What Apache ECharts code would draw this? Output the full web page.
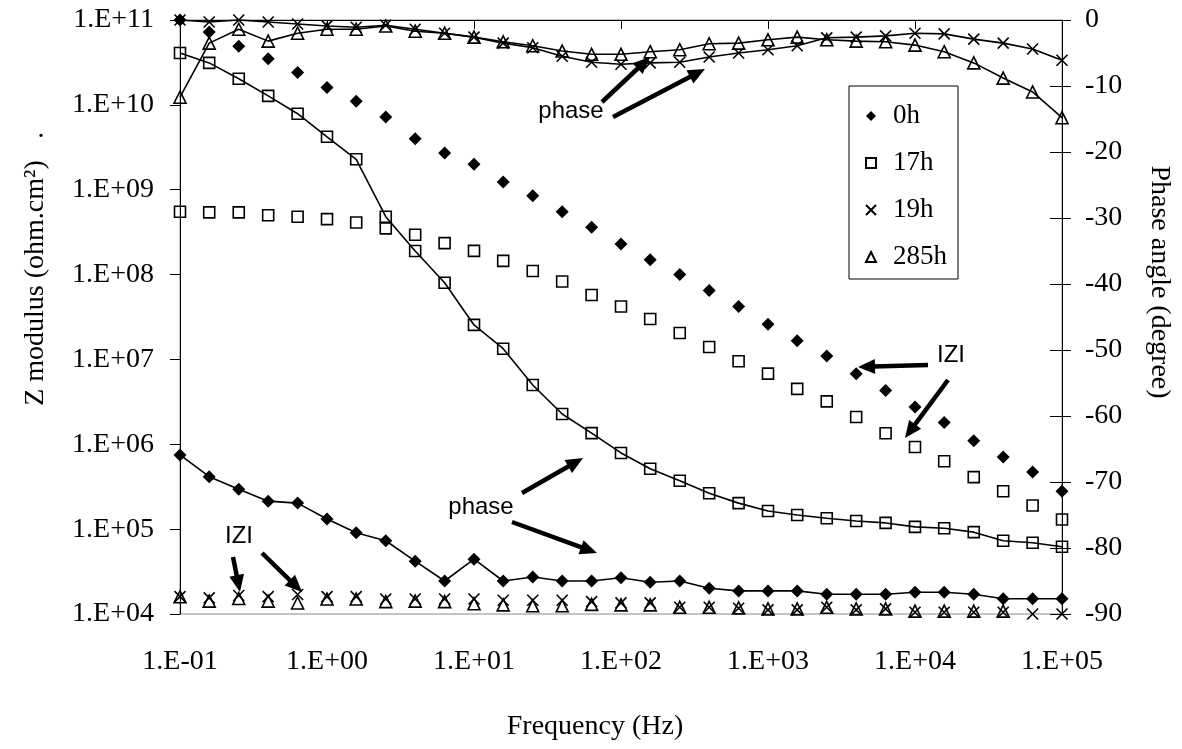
<!DOCTYPE html>
<html>
<head>
<meta charset="utf-8">
<script src="https://cdn.jsdelivr.net/npm/echarts@6/dist/echarts.min.js"></script>
<style>
html,body{margin:0;padding:0;background:#fff;}
#chart{width:1182px;height:749px;}
</style>
</head>
<body>
<div id="chart"></div>
<script>
// Frequencies (Hz), 5 points per decade
const freq = [0.1,0.158,0.251,0.398,0.631,1,1.58,2.51,3.98,6.31,10,15.8,25.1,39.8,63.1,100,158,251,398,631,1000,1580,2510,3980,6310,10000,15800,25100,39800,63100,100000];

// |Z| modulus (ohm.cm2), left axis
const z0h   = [1.0e11,7.2e10,4.9e10,3.5e10,2.4e10,1.6e10,1.1e10,7.2e9,4.0e9,2.7e9,2.0e9,1.23e9,8.5e8,5.5e8,3.6e8,2.3e8,1.5e8,1.0e8,6.5e7,4.2e7,2.6e7,1.66e7,1.1e7,6.8e6,4.3e6,2.75e6,1.8e6,1.1e6,7.1e5,4.7e5,2.8e5];
const z17h  = [5.5e8,5.4e8,5.4e8,5.0e8,4.8e8,4.5e8,4.1e8,3.5e8,2.95e8,2.35e8,1.9e8,1.45e8,1.1e8,8.3e7,5.75e7,4.2e7,3.0e7,2.05e7,1.4e7,9.5e6,6.8e6,4.5e6,3.2e6,2.1e6,1.35e6,9.3e5,6.3e5,4.1e5,2.8e5,1.9e5,1.3e5];
const z19h  = [1.6e4,1.55e4,1.65e4,1.6e4,1.7e4,1.6e4,1.6e4,1.5e4,1.5e4,1.5e4,1.5e4,1.45e4,1.45e4,1.45e4,1.4e4,1.35e4,1.35e4,1.2e4,1.2e4,1.17e4,1.12e4,1.12e4,1.2e4,1.12e4,1.15e4,1.05e4,1.05e4,1.05e4,1.05e4,1.0e4,1.0e4];
const z285h = [1.6e4,1.42e4,1.52e4,1.42e4,1.35e4,1.5e4,1.5e4,1.4e4,1.42e4,1.4e4,1.32e4,1.28e4,1.25e4,1.25e4,1.3e4,1.28e4,1.28e4,1.2e4,1.2e4,1.18e4,1.15e4,1.15e4,1.2e4,1.15e4,1.15e4,1.08e4,1.08e4,1.08e4,1.08e4,null,null];

// Phase angle (degree), right axis
const p0h   = [-65.9,-69.2,-71.1,-72.9,-73.2,-75.6,-77.7,-78.9,-82.0,-85.0,-81.7,-85.0,-84.4,-85.0,-85.0,-84.5,-85.2,-85.0,-86.1,-86.5,-86.5,-86.5,-87.0,-87.0,-87.0,-86.7,-86.7,-87.0,-87.7,-87.7,-87.7];
const p17h  = [-5.0,-6.5,-8.9,-11.5,-14.2,-17.7,-21.1,-29.8,-35.0,-39.8,-46.2,-49.8,-55.3,-59.7,-62.6,-65.6,-68.0,-69.8,-71.7,-73.2,-74.4,-75.0,-75.5,-75.9,-76.2,-76.8,-77.0,-77.6,-78.9,-79.2,-79.8];
const p19h  = [0,-0.3,0,-0.3,-0.6,-0.9,-1.1,-0.8,-1.4,-2.0,-2.6,-3.5,-4.2,-5.5,-6.4,-6.7,-6.5,-6.4,-5.6,-5.0,-4.5,-3.9,-2.7,-2.6,-2.4,-2.0,-2.1,-2.9,-3.5,-4.4,-6.1];
const p285h = [-11.7,-3.5,-1.4,-3.2,-2.0,-1.4,-1.4,-0.9,-1.7,-2.0,-2.6,-3.3,-3.9,-4.7,-5.2,-5.2,-4.8,-4.5,-3.6,-3.5,-3.0,-2.6,-3.0,-3.2,-3.3,-3.8,-4.8,-6.5,-8.8,-10.9,-14.8];

const seriesNames = ['0h','17h','19h','285h'];
const phaseTicks = [0,-10,-20,-30,-40,-50,-60,-70,-80,-90];

const SERIF = '"Liberation Serif","Times New Roman",serif';
const SANS = '"Liberation Sans",Arial,sans-serif';

function pairs(v){ return freq.map((f,i)=>[f, v[i]]); }
function expLabel(v){
  const e = Math.round(Math.log10(v));
  return '1.E' + (e < 0 ? '-' : '+') + String(Math.abs(e)).padStart(2,'0');
}

const CROSS = 'path://M0,0L10,10M10,0L0,10';
const HOLLOW = 'rgba(255,255,255,0)';
const styles = {
  '0h':   {symbol:'diamond', size:13, item:{color:'#000', borderColor:'#000', borderWidth:0, opacity:1}},
  '17h':  {symbol:'rect', size:11, item:{color:HOLLOW, borderColor:'#000', borderWidth:1.6, opacity:1}},
  '19h':  {symbol:CROSS, size:11, item:{color:HOLLOW, borderColor:'#000', borderWidth:1.6, opacity:1}},
  '285h': {symbol:'triangle', size:12, item:{color:HOLLOW, borderColor:'#000', borderWidth:1.6, opacity:1}}
};

const zData = {'0h':z0h,'17h':z17h,'19h':z19h,'285h':z285h};
const pData = {'0h':p0h,'17h':p17h,'19h':p19h,'285h':p285h};

const series = [];
seriesNames.forEach(n => {
  const s = styles[n];
  series.push({
    name:n, type:'scatter', xAxisIndex:0, yAxisIndex:0, clip:false,
    symbol:s.symbol, symbolSize:s.size, itemStyle:s.item,
    emphasis:{disabled:true},
    data:pairs(zData[n]), z:3
  });
});
seriesNames.forEach(n => {
  const s = styles[n];
  series.push({
    name:n, type:'line', xAxisIndex:0, yAxisIndex:1, clip:false,
    symbol:s.symbol, symbolSize:s.size, showSymbol:true, itemStyle:s.item,
    emphasis:{disabled:true},
    lineStyle:{color:'#000', width:1.6}, data:pairs(pData[n]), z:2
  });
});

function arrow(x1,y1,x2,y2){
  const a = Math.atan2(y2-y1, x2-x1), c = Math.cos(a), s = Math.sin(a);
  const L = 17, W = 7.5;
  const bx = x2 - L*c, by = y2 - L*s;
  return [
    {type:'line', shape:{x1:x1,y1:y1,x2:bx+2*c,y2:by+2*s}, style:{stroke:'#000', lineWidth:4.5}},
    {type:'polygon', shape:{points:[[x2,y2],[bx - s*W, by + c*W],[bx + s*W, by - c*W]]}, style:{fill:'#000'}}
  ];
}

const annotations = [
  {type:'text', x:571, y:111, style:{text:'phase', font:'24px '+SANS, fill:'#000', align:'center', verticalAlign:'middle'}},
  {type:'text', x:481, y:507, style:{text:'phase', font:'24px '+SANS, fill:'#000', align:'center', verticalAlign:'middle'}},
  {type:'text', x:239, y:536, style:{text:'IZI', font:'24px '+SANS, fill:'#000', align:'center', verticalAlign:'middle'}},
  {type:'text', x:951, y:355, style:{text:'IZI', font:'24px '+SANS, fill:'#000', align:'center', verticalAlign:'middle'}},
  ...arrow(602,102,650,57),
  ...arrow(613,117,705,69),
  ...arrow(522,493,583,458),
  ...arrow(512,522,597,553),
  ...arrow(233,557,240,592),
  ...arrow(262,553,302,592),
  ...arrow(928,365,858,367),
  ...arrow(948,380,905,438),
  // axis titles
  {type:'text', x:36, y:283, rotation:Math.PI/2, style:{text:'Z modulus (ohm.cm²)', font:'28px '+SERIF, fill:'#000', align:'center', verticalAlign:'middle'}},
  {type:'text', x:41, y:130, style:{text:'.', font:'28px '+SERIF, fill:'#000', align:'center', verticalAlign:'middle'}},
  {type:'text', x:1159, y:282, rotation:-Math.PI/2, style:{text:'Phase angle (degree)', font:'28px '+SERIF, fill:'#000', align:'center', verticalAlign:'middle'}},
  {type:'text', x:595, y:727, style:{text:'Frequency (Hz)', font:'28px '+SERIF, fill:'#000', align:'center', verticalAlign:'middle'}}
];

const chart = echarts.init(document.getElementById('chart'), null, {renderer:'canvas'});
chart.setOption({
  backgroundColor:'#fff',
  animation:false,
  grid:{left:180, right:120, top:20, bottom:135, show:true, borderColor:'#8a8a8a', borderWidth:1, backgroundColor:'transparent'},
  legend:{
    data:seriesNames, orient:'vertical', left:849, top:86,
    itemWidth:10, itemHeight:10, itemGap:17, symbolKeepAspect:true,
    padding:[15,11,7,16],
    borderColor:'#000', borderWidth:1, backgroundColor:'#fff',
    textStyle:{fontFamily:SERIF, fontSize:27, color:'#000', lineHeight:30, padding:[0,0,0,12]},
    selectedMode:false
  },
  xAxis:{
    type:'log', logBase:10, min:0.1, max:100000, splitNumber:6,
    axisLine:{show:true, lineStyle:{color:'#000', width:1}},
    axisTick:{show:true, inside:false, length:9, lineStyle:{color:'#000'}},
    minorTick:{show:false},
    splitLine:{show:false},
    axisLabel:{formatter:expLabel, fontFamily:SERIF, fontSize:28, color:'#000', margin:34, showMinLabel:true, showMaxLabel:true}
  },
  yAxis:[
    {
      type:'log', logBase:10, min:1e4, max:1e11, splitNumber:7, position:'left',
      axisLine:{show:true, lineStyle:{color:'#000', width:1}},
      axisTick:{show:true, inside:false, length:10, lineStyle:{color:'#000'}},
      splitLine:{show:false},
      axisLabel:{formatter:expLabel, fontFamily:SERIF, fontSize:28, color:'#000', margin:26, showMinLabel:true, showMaxLabel:true}
    },
    {
      type:'value', min:-90, max:0, interval:10, position:'right',
      axisLine:{show:true, lineStyle:{color:'#000', width:1}},
      axisTick:{show:true, inside:false, length:9, lineStyle:{color:'#000'}},
      splitLine:{show:false},
      axisLabel:{fontFamily:SERIF, fontSize:28, color:'#000', margin:23, align:'left',
        formatter:function(v){ return phaseTicks.indexOf(v) >= 0 ? String(v) : ''; }}
    },
    {
      type:'value', min:-90, max:0, interval:10, position:'right',
      axisLine:{show:false},
      axisTick:{show:true, inside:true, length:12, lineStyle:{color:'#000'}},
      splitLine:{show:false},
      axisLabel:{show:false}
    }
  ],
  series:series,
  graphic:annotations
});
</script>
</body>
</html>
